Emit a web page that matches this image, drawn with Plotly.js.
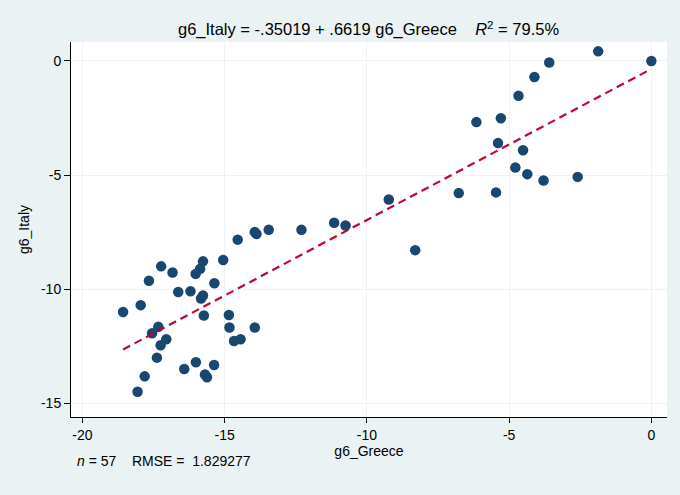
<!DOCTYPE html>
<html>
<head>
<meta charset="utf-8">
<script src="https://cdn.plot.ly/plotly-3.0.1.min.js"></script>
<style>
  html, body { margin: 0; padding: 0; background: #eaf2f3; }
  #chart { width: 680px; height: 495px; }
</style>
</head>
<body>
<div id="chart"></div>
<script>
// g6_Greece vs g6_Italy
var greece = [0, -1.87, -3.59, -4.11, -4.67, -6.15, -5.29, -5.39, -4.51, -4.78,
  -4.36, -3.79, -2.59, -6.77, -5.46, -12.3, -11.15, -10.75, -9.23, -8.3,
  -13.45, -13.94, -13.88, -14.54, -15.05, -15.76, -15.86, -16.02, -17.23, -16.83,
  -17.66, -15.36, -16.63, -16.2, -15.76, -15.83, -17.95, -18.57, -15.73, -14.85,
  -17.33, -17.55, -14.83, -13.94, -17.05, -17.25, -14.67, -14.44, -17.38, -16.01,
  -16.42, -15.37, -15.69, -15.62, -17.81, -18.06];
var italy = [0, 0.42, -0.07, -0.7, -1.53, -2.68, -2.51, -3.6, -3.91, -4.67,
  -4.96, -5.24, -5.08, -5.79, -5.76, -7.4, -7.09, -7.21, -6.07, -8.29,
  -7.4, -7.5, -7.58, -7.83, -8.72, -8.78, -9.11, -9.33, -9.0, -9.27,
  -9.63, -9.74, -10.12, -10.09, -10.28, -10.41, -10.7, -11.0, -11.15, -11.13,
  -11.65, -11.93, -11.68, -11.68, -12.19, -12.46, -12.27, -12.19, -13.0, -13.2,
  -13.5, -13.32, -13.74, -13.86, -13.82, -14.49];

var intercept = -0.35019;
var slope = 0.6619;
var r2 = '79.5%';
var nObs = 57;
var rmse = '1.829277';

var xTicks = [-20, -15, -10, -5, 0];
var yTicks = [0, -5, -10, -15];

var xLo = Math.min.apply(null, greece);
var xHi = Math.max.apply(null, greece);

var points = {
  x: greece,
  y: italy,
  type: 'scatter',
  mode: 'markers',
  showlegend: false,
  marker: {
    size: 10.5,
    color: '#1a476f'
  }
};

var fit = {
  x: [xLo, xHi],
  y: [intercept + slope * xLo, intercept + slope * xHi],
  type: 'scatter',
  mode: 'lines',
  showlegend: false,
  line: {
    color: '#c10534',
    width: 2.2,
    dash: '8px,5px'
  }
};

var layout = {
  width: 680,
  height: 495,
  paper_bgcolor: '#eaf2f3',
  plot_bgcolor: '#ffffff',
  font: {
    family: 'Liberation Sans, Arial, sans-serif',
    color: '#000000',
    size: 14
  },
  margin: { l: 71, r: 13, t: 42, b: 78 },
  title: {
    text: 'g6_Italy = ' + String(intercept).replace('0.', '.') + ' + ' +
      String(slope).replace('0.', '.') + ' g6_Greece&nbsp;&nbsp;&nbsp;&nbsp;<i>R</i><sup>2</sup> = ' + r2,
    font: { size: 16.5, color: '#000000' },
    x: 0.542,
    xanchor: 'center',
    y: 0.94,
    yanchor: 'middle'
  },
  xaxis: {
    range: [-20.4, 0.55],
    tickvals: xTicks,
    ticktext: xTicks.map(String),
    ticks: 'outside',
    ticklen: 5,
    tickcolor: '#000000',
    showline: true,
    linecolor: '#000000',
    linewidth: 1,
    showgrid: true,
    gridcolor: '#edf2f4',
    zeroline: false,
    title: { text: 'g6_Greece', font: { size: 14 }, standoff: 0 }
  },
  yaxis: {
    range: [-15.6, 0.83],
    tickvals: yTicks,
    ticktext: yTicks.map(String),
    ticks: 'outside',
    ticklen: 6,
    tickcolor: '#000000',
    showline: true,
    linecolor: '#000000',
    linewidth: 1,
    showgrid: true,
    gridcolor: '#edf2f4',
    zeroline: false,
    title: { text: 'g6_Italy', font: { size: 14 }, standoff: 8 }
  },
  annotations: [
    {
      xref: 'paper',
      yref: 'paper',
      x: 0.006,
      y: -0.118,
      xanchor: 'left',
      yanchor: 'middle',
      showarrow: false,
      text: '<i>n</i> = ' + nObs + '&nbsp;&nbsp;&nbsp;&nbsp;RMSE = &nbsp;' + rmse,
      font: { size: 14, color: '#000000' }
    }
  ]
};

Plotly.newPlot('chart', [points, fit], layout, { displayModeBar: false, staticPlot: true });
</script>
</body>
</html>
